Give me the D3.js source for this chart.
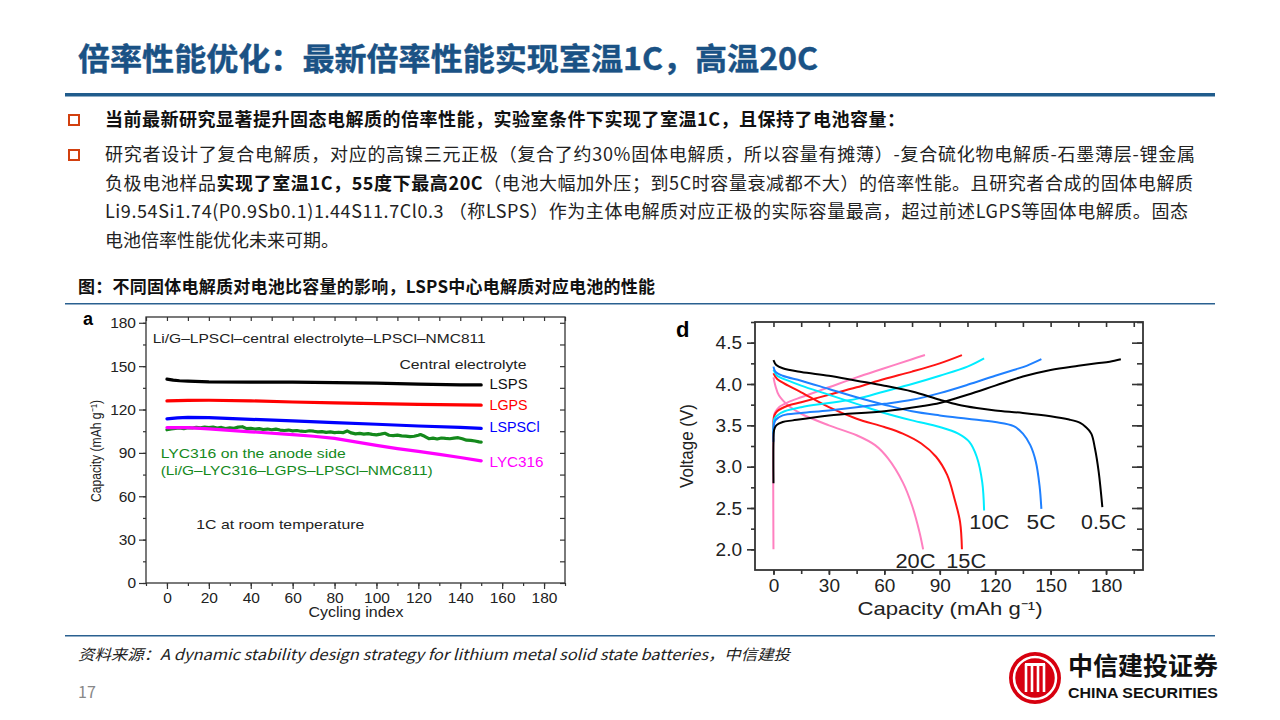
<!DOCTYPE html>
<html><head><meta charset="utf-8">
<script src="https://cdn.jsdelivr.net/npm/d3@7"></script>
<style>body{margin:0;background:#fff}svg{display:block}</style></head>
<body>
<svg id="s" width="1280" height="720"></svg>
<script>
// ---------- texts ----------
const titleText = "倍率性能优化：最新倍率性能实现室温1C，高温20C";
const bullet1 = "当前最新研究显著提升固态电解质的倍率性能，实验室条件下实现了室温1C，且保持了电池容量：";
const bullet2Lines = [
  [["研究者设计了复合电解质，对应的高镍三元正极（复合了约30%固体电解质，所以容量有摊薄）-复合硫化物电解质-石墨薄层-锂金属", false]],
  [["负极电池样品", false], ["实现了室温1C，55度下最高20C", true], ["（电池大幅加外压；到5C时容量衰减都不大）的倍率性能。且研究者合成的固体电解质", false]],
  [["Li9.54Si1.74(P0.9Sb0.1)1.44S11.7Cl0.3 （称LSPS）作为主体电解质对应正极的实际容量最高，超过前述LGPS等固体电解质。固态", false]],
  [["电池倍率性能优化未来可期。", false]]
];
const captionText = "图：不同固体电解质对电池比容量的影响，LSPS中心电解质对应电池的性能";
const sourceText = "资料来源：A dynamic stability design strategy for lithium metal solid state batteries，中信建投";
const pageNum = "17";

// ---------- chart a data (cycling) ----------
const aXTicks = [0,20,40,60,80,100,120,140,160,180];
const aYTicks = [0,30,60,90,120,150,180];
const aSeriesNames = ["LSPS","LGPS","LSPSCl","LYC316","LYC316 anode"];
const aSeriesColors = ["#000000","#ff0000","#0000ff","#ff00ff","#14891c"];
const lspsCap = [[0,141],[3,140.3],[6,139.9],[10,139.7],[20,139.1],[40,139],[60,139],[80,138.6],[100,138.3],[120,137.6],[140,137.1],[150,137]];
const lgpsCap = [[0,126],[10,126.3],[20,126.4],[40,126],[60,125.2],[80,124.6],[100,124.1],[120,123.6],[140,123.2],[150,123]];
const lspsclCap = [[0,113.5],[5,114.2],[10,114.5],[20,114.4],[40,113.2],[60,112.1],[80,111],[100,109.8],[120,108.6],[140,107.6],[150,107]];
const lyc316Cap = [[0,107.5],[10,107.5],[20,106.6],[40,104.6],[60,102.6],[70,101.5],[80,100],[90,97.6],[100,95.2],[110,93],[120,91],[130,89],[140,86.8],[150,84.5]];
const lycAnodeCap = [[0,106],[2,106.5],[4,107],[6,107.2],[8,106.8],[10,107.5],[12,107.2],[14,107.6],[16,107.3],[18,107.8],[20,107.5],[22,107.9],[24,107.2],[26,107.6],[28,106.9],[30,107.3],[32,107],[34,107.8],[36,108.1],[38,106.8],[40,107],[42,106.5],[44,106.8],[46,106.2],[48,106.5],[50,106],[52,106.4],[54,105.8],[56,105.5],[58,105.8],[60,105.2],[62,105.5],[64,105],[66,104.8],[68,105.3],[70,105],[72,104.5],[74,104.7],[76,104.2],[78,104.5],[80,104],[82,104.3],[84,104],[86,105.2],[88,103.8],[90,103.2],[92,103.5],[94,103],[96,103.3],[98,102.8],[100,102.5],[102,103],[104,103.6],[106,102.2],[108,102],[110,102.3],[112,101.8],[114,101.6],[116,101.2],[118,101.5],[120,102.2],[121,102.7],[123,101.5],[125,99.8],[127,100.2],[129,99.6],[131,100.3],[133,100],[135,99.8],[137,100.2],[139,100.5],[141,99.8],[143,98.8],[145,98.7],[147,98.2],[149,97.6],[150,97.5]];

// ---------- chart d data (rate) ----------
const dXTicks = [0,30,60,90,120,150,180];
const dYTicks = [2.0,2.5,3.0,3.5,4.0,4.5];
const rateNames = ["20C","15C","10C","5C","0.5C"];
const rateColors = ["#ff80c0","#ff1414","#00ecff","#1f80ff","#000000"];
const charge20C = [[0,2.0],[0,3.5],[0.3,3.62],[1,3.66],[3,3.72],[8,3.78],[15,3.84],[30,3.96],[45,4.08],[60,4.19],[75,4.30],[82,4.35]];
const discharge20C = [[0,4.08],[1,3.98],[3,3.86],[8,3.74],[15,3.64],[30,3.50],[45,3.38],[55,3.26],[62,3.10],[70,2.81],[75,2.53],[79,2.21],[81,2.0]];
const charge15C = [[0,3.45],[0,3.55],[0.5,3.62],[2,3.67],[8,3.74],[15,3.78],[30,3.87],[45,3.96],[60,4.06],[75,4.15],[90,4.25],[102,4.35]];
const discharge15C = [[0,4.13],[2,4.06],[8,3.98],[15,3.90],[30,3.72],[45,3.58],[60,3.48],[70,3.40],[80,3.28],[88,3.12],[94,2.90],[98,2.61],[101,2.33],[102,2.0]];
const charge10C = [[0,3.4],[0,3.5],[0.5,3.58],[2,3.62],[6,3.67],[15,3.72],[30,3.77],[45,3.82],[60,3.91],[75,4.00],[90,4.10],[105,4.21],[114,4.31]];
const discharge10C = [[0,4.17],[2,4.10],[8,4.04],[15,3.98],[30,3.87],[45,3.76],[60,3.65],[75,3.56],[90,3.48],[100,3.40],[106,3.30],[110,3.12],[113,2.81],[114,2.47]];
const charge5C = [[0,3.3],[0,3.45],[1,3.56],[5,3.62],[15,3.65],[30,3.68],[60,3.76],[75,3.81],[90,3.89],[105,3.99],[120,4.10],[130,4.17],[137,4.22],[145,4.30]];
const discharge5C = [[0,4.21],[1,4.15],[5,4.10],[15,4.04],[30,3.94],[45,3.84],[60,3.75],[75,3.67],[90,3.62],[105,3.58],[120,3.54],[130,3.49],[135,3.40],[139,3.26],[142,3.06],[144,2.77],[145,2.49]];
const charge05C = [[0,2.8],[0,3.3],[0.3,3.44],[1.5,3.50],[5,3.54],[10.5,3.56],[30,3.62],[60,3.67],[80,3.73],[90,3.77],[105,3.87],[120,3.98],[135,4.09],[150,4.17],[165,4.22],[175,4.25],[182,4.27],[188,4.30]];
const discharge05C = [[0,4.29],[1.5,4.23],[5,4.19],[15,4.145],[30,4.10],[45,4.04],[60,3.98],[75,3.91],[90,3.81],[100,3.75],[110,3.71],[120,3.68],[135,3.65],[150,3.61],[160,3.57],[166,3.53],[169,3.48],[172,3.40],[174,3.22],[176,2.94],[178,2.51]];

// ---------- drawing ----------
const svg = d3.select("#s");
const CJK = "'Noto Sans CJK SC','Noto Sans',sans-serif";
const SANS = "'Liberation Sans',Arial,sans-serif";
const BLUE = "#1a5285";

svg.append("rect").attr("width",1280).attr("height",720).attr("fill","#fff");

// title
svg.append("text").attr("x",78).attr("y",70).attr("font-family",CJK).attr("font-weight","bold")
  .attr("font-size",31).attr("fill",BLUE).attr("stroke",BLUE).attr("stroke-width",0.4)
  .attr("textLength",740).attr("lengthAdjust","spacingAndGlyphs").text(titleText);
svg.append("rect").attr("x",65).attr("y",93).attr("width",1150).attr("height",3.5).attr("fill","#205c8c");

// bullets
function bulletBox(y){
  svg.append("rect").attr("x",69).attr("y",y-5).attr("width",10).attr("height",10)
    .attr("fill","#fff").attr("stroke","#d2400f").attr("stroke-width",2);
}
bulletBox(120); bulletBox(155);
svg.append("text").attr("x",105).attr("y",126).attr("font-family",CJK).attr("font-weight","bold")
  .attr("font-size",18).attr("fill","#111").attr("textLength",800).attr("lengthAdjust","spacing").text(bullet1);
const lineY = [161,190,218,247];
const lineLen = [1090,1088,1083,null];
bullet2Lines.forEach((segs,i)=>{
  const t = svg.append("text").attr("x",105).attr("y",lineY[i]).attr("font-family",CJK)
    .attr("font-size",18).attr("fill","#222");
  if(lineLen[i]) t.attr("textLength",lineLen[i]).attr("lengthAdjust","spacing");
  segs.forEach(s=>t.append("tspan").attr("font-weight",s[1]?"bold":"normal").attr("fill",s[1]?"#111":"#222").text(s[0]));
});

// caption
svg.append("text").attr("x",78).attr("y",293).attr("font-family",CJK).attr("font-weight","bold")
  .attr("font-size",17).attr("fill","#111").attr("textLength",577).attr("lengthAdjust","spacing").text(captionText);
svg.append("rect").attr("x",65).attr("y",303).attr("width",1150).attr("height",1.5).attr("fill","#2a6090");

// ---------- chart a ----------
const xA = d3.scaleLinear().domain([-10,190]).range([146,565]);
const yA = d3.scaleLinear().domain([0,184]).range([583,317]);
const gA = svg.append("g");
function styleAxis(g,fs){
  g.select(".domain").remove();
  g.selectAll("line").attr("stroke","#333").attr("stroke-width",1.2);
  g.selectAll("text").attr("font-family",SANS).attr("font-size",fs).attr("fill","#222");
}
const aMinorX = d3.range(-10,191,10), aMinorY = d3.range(0,181,15);
gA.append("g").attr("transform",`translate(0,583)`).call(d3.axisBottom(xA).tickValues(aMinorX).tickSize(3).tickFormat("")).call(g=>styleAxis(g,15.5));
gA.append("g").attr("transform",`translate(0,583)`).call(d3.axisBottom(xA).tickValues(aXTicks).tickSize(6).tickPadding(3)).call(g=>styleAxis(g,15.5));
gA.append("g").attr("transform",`translate(146,0)`).call(d3.axisLeft(yA).tickValues(aMinorY).tickSize(3).tickFormat("")).call(g=>styleAxis(g,15.5));
gA.append("g").attr("transform",`translate(146,0)`).call(d3.axisLeft(yA).tickValues(aYTicks).tickSize(7).tickPadding(3)).call(g=>styleAxis(g,15.5));
gA.append("g").attr("transform",`translate(0,317)`).call(d3.axisBottom(xA).tickValues(aMinorX).tickSize(4).tickFormat("")).call(g=>styleAxis(g,15.5));
gA.append("g").attr("transform",`translate(565,0)`).call(d3.axisLeft(yA).tickValues(aMinorY).tickSize(5).tickFormat("")).call(g=>styleAxis(g,15.5));
gA.append("rect").attr("x",146).attr("y",317).attr("width",419).attr("height",266).attr("fill","none").attr("stroke","#333").attr("stroke-width",1.3);

const lineA = d3.line().x(d=>xA(d[0])).y(d=>yA(d[1])).curve(d3.curveLinear);
const aSeries = [lycAnodeCap, lyc316Cap, lspsclCap, lgpsCap, lspsCap];
const aSeriesCol = [aSeriesColors[4],aSeriesColors[3],aSeriesColors[2],aSeriesColors[1],aSeriesColors[0]];
aSeries.forEach((s,i)=>{
  gA.append("path").datum(s).attr("d",lineA).attr("fill","none").attr("stroke",aSeriesCol[i])
    .attr("stroke-width",3.2).attr("stroke-linejoin","round").attr("stroke-linecap","round");
});
function txt(g,x,y,s,fs,col,opts={}){
  const t=g.append("text").attr("x",x).attr("y",y).attr("font-family",SANS).attr("font-size",fs).attr("fill",col).text(s);
  if(opts.anchor) t.attr("text-anchor",opts.anchor);
  if(opts.weight) t.attr("font-weight",opts.weight);
  if(opts.len) t.attr("textLength",opts.len).attr("lengthAdjust","spacingAndGlyphs");
  return t;
}
txt(gA,xA(-6.8),yA(166),"Li/G–LPSCl–central electrolyte–LPSCl–NMC811",13.5,"#222",{len:333});
txt(gA,xA(111),yA(148),"Central electrolyte",13.5,"#222",{len:127});
txt(gA,xA(154),yA(134.5),aSeriesNames[0],14,"#111",{len:38});
txt(gA,xA(154),yA(119.5),aSeriesNames[1],14,aSeriesColors[1],{len:38});
txt(gA,xA(154),yA(104.5),aSeriesNames[2],14,aSeriesColors[2],{len:50});
txt(gA,xA(154),yA(80),aSeriesNames[3],14,aSeriesColors[3],{len:54});
txt(gA,xA(-3),yA(86.5),"LYC316 on the anode side",13.5,aSeriesColors[4],{len:185});
txt(gA,xA(-3),yA(74.5),"(Li/G–LYC316–LGPS–LPSCl–NMC811)",13.5,aSeriesColors[4],{len:272});
txt(gA,xA(14),yA(37.5),"1C at room temperature",13.5,"#222",{len:168});
txt(gA,356,617,"Cycling index",14.5,"#222",{anchor:"middle",len:95});
svg.append("text").attr("transform","translate(101,451) rotate(-90)").attr("text-anchor","middle")
  .attr("font-family",SANS).attr("font-size",14).attr("fill","#222")
  .attr("textLength",102).attr("lengthAdjust","spacingAndGlyphs").text("Capacity (mAh g⁻¹)");
txt(gA,83,325,"a",18,"#000",{weight:"bold"});

// ---------- chart d ----------
const xD = d3.scaleLinear().domain([-10,200]).range([755,1143]);
const yD = d3.scaleLinear().domain([1.75,4.75]).range([570,322]);
const gD = svg.append("g");
function styleAxisD(g,fs){
  g.select(".domain").remove();
  g.selectAll("line").attr("stroke","#333").attr("stroke-width",1.6);
  g.selectAll("text").attr("font-family",SANS).attr("font-size",fs).attr("fill","#222");
}
const dMinorX = d3.range(-15,201,15).filter(v=>v>=-10), dMinorY = d3.range(2.0,4.76,0.25);
gD.append("g").attr("transform",`translate(0,570)`).call(d3.axisBottom(xD).tickValues(dMinorX).tickSize(4).tickFormat("")).call(g=>styleAxisD(g,19));
gD.append("g").attr("transform",`translate(0,570)`).call(d3.axisBottom(xD).tickValues(dXTicks).tickSize(5).tickPadding(4)).call(g=>styleAxisD(g,19));
gD.append("g").attr("transform",`translate(755,0)`).call(d3.axisLeft(yD).tickValues(dMinorY).tickSize(4).tickFormat("")).call(g=>styleAxisD(g,19));
gD.append("g").attr("transform",`translate(755,0)`).call(d3.axisLeft(yD).tickValues(dYTicks).tickSize(8).tickPadding(5).tickFormat(d3.format(".1f"))).call(g=>styleAxisD(g,19));
gD.append("g").attr("transform",`translate(0,322)`).call(d3.axisBottom(xD).tickValues(dMinorX).tickSize(5).tickFormat("")).call(g=>styleAxisD(g,19));
gD.append("g").attr("transform",`translate(1143,0)`).call(d3.axisLeft(yD).tickValues(dMinorY).tickSize(6).tickFormat("")).call(g=>styleAxisD(g,19));
gD.append("g").attr("transform",`translate(1143,0)`).call(d3.axisLeft(yD).tickValues(dYTicks).tickSize(11).tickFormat("")).call(g=>styleAxisD(g,19));
gD.append("rect").attr("x",755).attr("y",322).attr("width",388).attr("height",248).attr("fill","none").attr("stroke","#333").attr("stroke-width",1.8);

const lineD = d3.line().x(d=>xD(d[0])).y(d=>yD(d[1])).curve(d3.curveCatmullRom.alpha(0.5));
const rateCurves = [[charge20C,discharge20C],[charge15C,discharge15C],[charge10C,discharge10C],[charge5C,discharge5C],[charge05C,discharge05C]];
rateCurves.forEach((pair,i)=>{
  pair.forEach(s=>{
    gD.append("path").datum(s).attr("d",lineD).attr("fill","none").attr("stroke",rateColors[i])
      .attr("stroke-width",2).attr("stroke-linejoin","round");
  });
});
txt(gD,xD(106),529,rateNames[2],20,"#222",{len:40});
txt(gD,xD(137),529,rateNames[3],20,"#222",{len:29});
txt(gD,xD(166.5),529,rateNames[4],20,"#222",{len:45});
txt(gD,xD(66),568,rateNames[0],20,"#222",{len:40});
txt(gD,xD(93.5),568,rateNames[1],20,"#222",{len:40});
txt(gD,950,615,"Capacity (mAh g⁻¹)",19,"#222",{anchor:"middle",len:185});
svg.append("text").attr("transform","translate(693,446) rotate(-90)").attr("text-anchor","middle")
  .attr("font-family",SANS).attr("font-size",19).attr("fill","#222")
  .attr("textLength",84).attr("lengthAdjust","spacingAndGlyphs").text("Voltage (V)");
txt(gD,676,337,"d",22,"#000",{weight:"bold"});

// ---------- footer ----------
svg.append("rect").attr("x",65).attr("y",635).attr("width",1150).attr("height",1.5).attr("fill","#2a6090");
svg.append("text").attr("x",78).attr("y",660).attr("font-family",CJK).attr("font-style","italic")
  .attr("font-size",15).attr("fill","#222").attr("textLength",712).attr("lengthAdjust","spacingAndGlyphs").text(sourceText);
svg.append("text").attr("x",78).attr("y",698).attr("font-family",CJK).attr("font-size",16).attr("fill","#888").text(pageNum);

// logo
const lg = svg.append("g").attr("transform","translate(1035,678)");
lg.append("circle").attr("r",26).attr("fill","#d7000f");
lg.append("circle").attr("r",21).attr("fill","none").attr("stroke","#fff").attr("stroke-width",2.5);
[-9,-3,3,9].forEach(x=>lg.append("rect").attr("x",x-1.3).attr("y",-14).attr("width",2.6).attr("height",28).attr("fill","#fff"));
lg.append("rect").attr("x",-10).attr("y",-15).attr("width",20).attr("height",3).attr("fill","#fff");
svg.append("text").attr("x",1068).attr("y",675).attr("font-family",CJK).attr("font-weight","bold")
  .attr("font-size",25).attr("fill","#111").attr("textLength",150).attr("lengthAdjust","spacingAndGlyphs").text("中信建投证券");
svg.append("text").attr("x",1068).attr("y",698).attr("font-family",SANS).attr("font-weight","bold")
  .attr("font-size",14).attr("fill","#111").attr("textLength",150).attr("lengthAdjust","spacingAndGlyphs").text("CHINA SECURITIES");
</script>
</body></html>
